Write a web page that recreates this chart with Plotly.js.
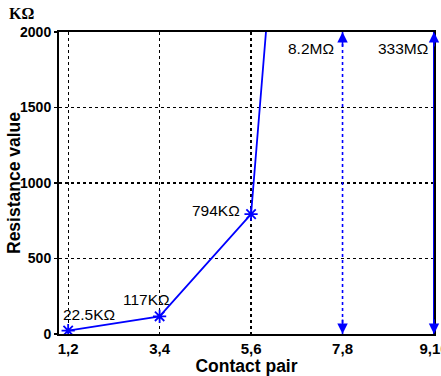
<!DOCTYPE html>
<html><head><meta charset="utf-8">
<script src="https://cdn.plot.ly/plotly-3.0.1.min.js"></script>
<style>html,body{margin:0;padding:0;background:#fff}#c{width:441px;height:376px}</style>
</head><body><div id="c"></div>
<script>
const categories = ['1,2', '3,4', '5,6', '7,8', '9,10'];
const resistanceK = [22.5, 117, 794, 8200, 333000];
const valueLabels = ['22.5KΩ', '117KΩ', '794KΩ', '8.2MΩ', '333MΩ'];
const yTicks = [0, 500, 1000, 1500, 2000];

const blue = '#0000ff';
const trace = {
  x: categories, y: resistanceK, type: 'scatter', mode: 'lines+markers',
  line: {color: blue, width: 1.8},
  marker: {symbol: 'asterisk', size: 11, color: blue, line: {color: blue, width: 1.8}},
  cliponaxis: true, hoverinfo: 'none'
};

const lblFont = {family: 'Liberation Sans, Arial, sans-serif', size: 15.5, color: '#000'};
const titleFont = {family: 'Liberation Sans, Arial, sans-serif', size: 17.5, color: '#000'};
const annotations = [
  {x: categories[0], y: resistanceK[0], text: valueLabels[0], showarrow: false, xanchor: 'left', yanchor: 'middle', xshift: -7, yshift: 16, font: lblFont},
  {x: categories[1], y: resistanceK[1], text: valueLabels[1], showarrow: false, xanchor: 'right', yanchor: 'middle', xshift: 12, yshift: 17, font: lblFont},
  {x: categories[2], y: resistanceK[2], text: valueLabels[2], showarrow: false, xanchor: 'right', yanchor: 'middle', xshift: -9, yshift: 4, font: lblFont},
  {x: categories[3], y: 1, yref: 'paper', text: valueLabels[3], showarrow: false, xanchor: 'right', yanchor: 'middle', xshift: -7, yshift: -16, font: lblFont},
  {x: categories[4], y: 1, yref: 'paper', text: valueLabels[4], showarrow: false, xanchor: 'right', yanchor: 'middle', xshift: -4, yshift: -16, font: lblFont},
  {xref: 'paper', yref: 'paper', x: -0.1, y: 1, text: '<b>KΩ</b>', showarrow: false, xanchor: 'center', yanchor: 'bottom', yshift: 8,
   font: {family: 'Liberation Serif, Times New Roman, serif', size: 16, color: '#000'}},
  {xref: 'paper', yref: 'paper', x: 0, y: 0.5, xshift: -45, text: '<b>Resistance value</b>', textangle: -90, showarrow: false,
   xanchor: 'center', yanchor: 'middle', font: titleFont}
];
// arrowheads at both ends of the 7,8 and 9,10 markers
[3, 4].forEach(i => {
  annotations.push({x: categories[i], y: 1, yref: 'paper', ax: 0, ay: 16, text: '', showarrow: true, arrowhead: 2, arrowsize: 1.3, arrowwidth: 1.6, arrowcolor: blue});
  annotations.push({x: categories[i], y: 0, yref: 'paper', ax: 0, ay: -16, text: '', showarrow: true, arrowhead: 2, arrowsize: 1.3, arrowwidth: 1.6, arrowcolor: blue});
});

const shapes = [
  {type: 'line', xref: 'x', yref: 'paper', x0: categories[3], x1: categories[3], y0: 1, y1: 0, line: {color: blue, width: 1.6, dash: 'dot'}, layer: 'above'},
  {type: 'line', xref: 'x', yref: 'paper', x0: categories[4], x1: categories[4], y0: 1, y1: 0, line: {color: blue, width: 2}, layer: 'above'}
];

const axFont = {family: 'Liberation Sans, Arial, sans-serif', size: 14, color: '#000', weight: 'bold'};
const layout = {
  width: 441, height: 376,
  margin: {l: 59, r: 7, t: 32, b: 42},
  paper_bgcolor: '#fff', plot_bgcolor: '#fff',
  showlegend: false,
  xaxis: {
    type: 'category', categoryarray: categories, range: [-0.1, 4],
    showline: true, linecolor: '#000', linewidth: 2, mirror: true,
    showgrid: true, gridcolor: '#000', gridwidth: 1.3, griddash: 'dot',
    ticks: '', ticklabelstandoff: 0,
    tickfont: {family: 'Liberation Sans, Arial, sans-serif', size: 15, color: '#000', weight: 'bold'}, zeroline: false,
    title: {text: '<b>Contact pair</b>', font: titleFont, standoff: 0}
  },
  yaxis: {
    range: [0, 2000], tickvals: yTicks, ticktext: yTicks.map(String),
    showline: true, linecolor: '#000', linewidth: 2, mirror: true,
    showgrid: true, gridcolor: '#000', gridwidth: 1.3, griddash: 'dot',
    ticks: 'outside', ticklen: 3, tickcolor: '#000', tickwidth: 1.5,
    tickfont: axFont, zeroline: false
  },
  annotations: annotations,
  shapes: shapes
};
Plotly.newPlot('c', [trace], layout, {staticPlot: true, displayModeBar: false});
</script></body></html>
